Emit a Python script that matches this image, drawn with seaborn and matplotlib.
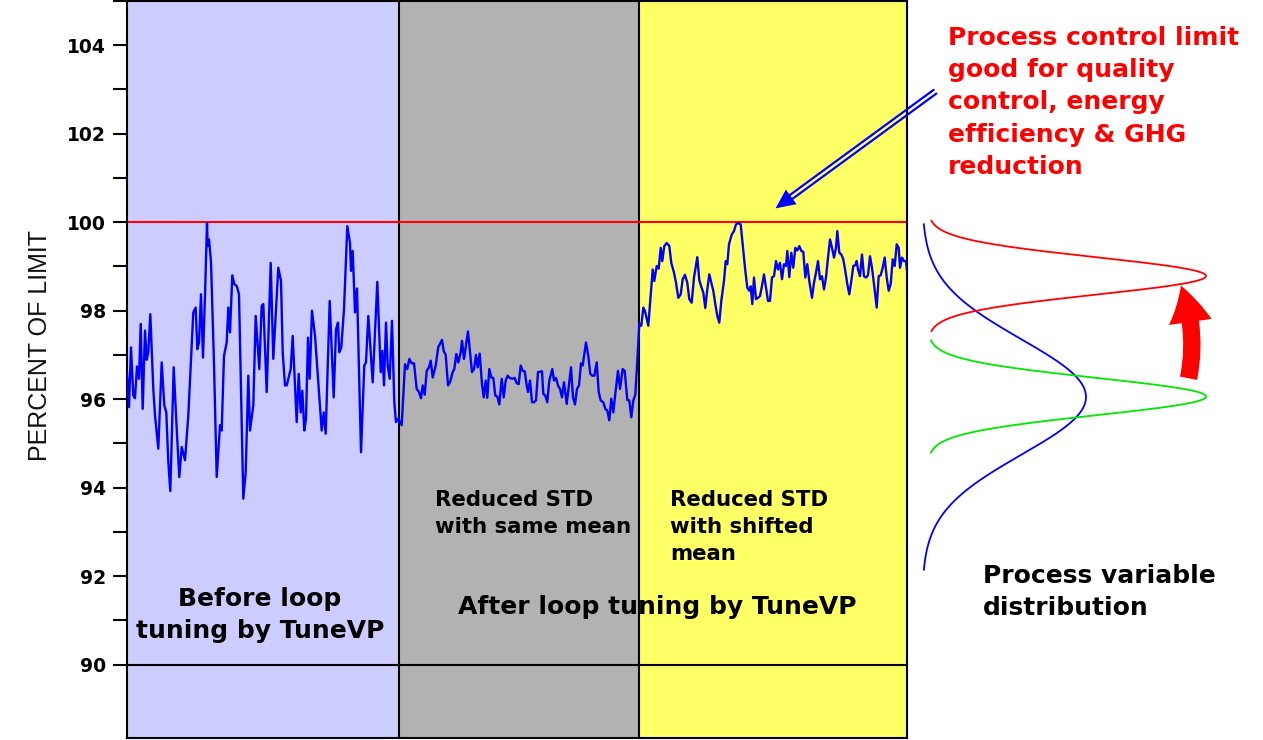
import numpy as np
import matplotlib
matplotlib.use("Agg")
import matplotlib.pyplot as plt
import seaborn as sns
import pandas as pd
from matplotlib.patches import FancyArrowPatch, ArrowStyle
from matplotlib.lines import Line2D

# ---------------- data ----------------
time_pts = [
    127, 129, 131, 133.3, 135, 137, 139, 140.7, 142.7, 145, 146.7, 148.3, 150.3, 153.3, 155, 158.3,
    161.7, 164.3, 166.3, 168.3, 170.3, 173.7, 176.7, 179.3, 181.7, 185, 188.3, 193.3, 195.7, 197.3,
    199, 201, 203, 205, 207, 207.7, 209, 211, 214, 216.7, 220, 221.7, 224, 226.7, 228.3, 230, 232.3,
    234.3, 236.7, 239, 243.3, 245.7, 248.3, 250, 253.3, 255.7, 259.3, 261.7, 263.3, 266.7, 270.7,
    273.3, 278.3, 281, 282.7, 285, 286.7, 290.7, 292.7, 296.7, 298.7, 300.7, 302.3, 304.3, 306, 308,
    309.7, 312, 315, 321.7, 323.7, 325.7, 329.7, 333.7, 336, 338, 339.3, 341.3, 344, 347.3, 350, 351,
    352.7, 355, 357, 361, 364.3, 366, 368.3, 372.7, 377.3, 380.7, 382.3, 384, 386, 387.7, 389.7, 392,
    394.3, 396, 398.3,
    401.7, 405, 407.3, 409.3, 411.7, 414, 416.7, 419, 421, 422.7, 424.7, 426.7, 429, 430.7, 432.7,
    435.7, 438.3, 440, 442, 443.7, 445.7, 448, 450, 452.7, 454.3, 456.3, 458.3, 460.7, 462, 464, 468,
    472, 474, 476, 477.7, 479.7, 482, 483.7, 485.7, 487.3, 489.3, 491.3, 493.3, 495.3, 497.3, 499.3,
    501.7, 503.7, 505.7, 507.7, 509.7, 512.3, 514.7, 516.7, 518.7, 520.7, 522.7, 524.7, 526.7, 528,
    530, 532, 534, 536, 538, 542, 543.3, 545.3, 547.3, 549.3, 552.3, 554, 556, 558, 560, 562, 564,
    566.7, 569, 571, 573, 575, 577, 579, 581, 582.7, 586, 588.3, 590.3, 592.3, 594.3, 596.7, 598.7,
    600.7, 603.3, 605.3, 607.3, 609.3, 611.3, 613.3, 615.3, 618, 620, 622.7, 624.7, 627.3, 629.3,
    631.3, 633.3, 635.3, 637.3, 639.3, 641.3, 643.3,
    645, 648.3, 652.7, 654.3, 656.7, 658.7, 660.7, 662.3, 664.3, 666.7, 669.3, 671.3, 674, 676,
    678.3, 680.7, 682.7, 685, 687.3, 689.3, 691.7, 694, 697.3, 699.3, 701.3, 703.3, 705.3, 707.3,
    709.3, 711.3, 713.3, 715.3, 717.3, 719.3, 721.3, 724, 725.7, 727.3, 729, 731.7, 734, 736, 738.3,
    740.7, 742.7, 745, 747.3, 749.3, 750.7, 752.3, 754, 756, 758, 760, 762, 764, 766, 768, 770, 772,
    774, 776, 778, 780, 782, 784, 786, 787.3, 789.3, 791.3, 793.3, 795.3, 797.3, 799.3, 801.3, 803.3,
    805.3, 807.3, 809.3, 812, 814, 816, 818, 820, 822, 824, 826, 828, 830, 832, 834, 836, 837.3,
    839.3, 841.3, 843.3, 845.3, 847.3, 849.3, 851.3, 853.3, 855.3, 856.7, 858, 860, 862, 864, 866,
    868, 870, 872, 874, 876.7, 878.7, 880.7, 882.7, 884.7, 886.7, 888.7, 890.7, 892.7, 894.7, 896.7,
    898.7, 900, 902, 904, 906, 907,
]
pv_values = [
    96.61, 95.82, 97.17, 96.08, 96.02, 96.74, 96.46, 97.70, 95.78, 97.55, 96.89, 97.06, 97.92, 96.23,
    95.63, 94.88, 96.83, 95.86, 95.70, 94.58, 93.92, 96.72, 95.33, 94.24, 94.92, 94.62, 95.63, 97.96,
    98.07, 97.13, 97.28, 98.37, 96.94, 98.33, 99.98, 99.46, 99.61, 99.10, 96.80, 94.24, 95.41, 95.29,
    96.98, 97.28, 98.07, 97.51, 98.80, 98.60, 98.56, 98.37, 93.75, 94.35, 96.53, 95.29, 95.86, 97.88,
    96.68, 98.11, 98.15, 96.16, 99.08, 96.91, 98.97, 98.67, 97.06, 96.31, 96.31, 96.68, 97.43, 95.48,
    96.57, 95.70, 96.19, 95.29, 95.56, 97.39, 96.46, 98.00, 97.43, 95.29, 95.70, 95.22, 98.22, 96.04,
    97.58, 97.73, 97.06, 97.17, 98.03, 99.91, 99.53, 98.90, 99.35, 97.96, 98.50, 94.80, 96.76, 96.83,
    97.88, 96.38, 98.65, 96.61, 97.09, 96.31, 97.73, 96.76, 96.46, 97.77, 95.93, 95.48, 95.56,
    95.41, 96.79, 96.68, 96.91, 96.81, 96.81, 96.23, 96.16, 96.02, 96.31, 96.10, 96.64, 96.72, 96.87,
    96.49, 96.76, 97.18, 97.25, 97.34, 97.09, 97.00, 96.31, 96.38, 96.61, 96.68, 97.02, 96.83, 97.06,
    97.32, 96.91, 97.53, 96.61, 96.68, 97.00, 96.72, 97.03, 96.34, 96.04, 96.42, 96.03, 96.68, 96.49,
    96.48, 96.08, 96.06, 95.88, 96.46, 96.04, 96.42, 96.53, 96.48, 96.46, 96.48, 96.36, 96.34, 96.76,
    96.64, 96.63, 96.31, 96.16, 96.42, 95.93, 95.93, 95.97, 96.61, 96.63, 96.12, 96.08, 95.93, 96.42,
    96.68, 96.42, 96.48, 96.31, 96.23, 96.04, 96.38, 95.89, 96.34, 96.72, 96.04, 95.88, 96.23, 96.31,
    96.81, 96.76, 97.28, 96.98, 96.57, 96.53, 96.53, 96.83, 96.16, 95.97, 95.93, 95.78, 95.74, 95.52,
    96.01, 95.70, 96.12, 96.64, 96.23, 96.68, 96.64, 95.98, 95.97, 95.59, 95.97, 96.10, 96.87, 97.70,
    97.66, 98.07,
    97.99, 97.66, 98.93, 98.67, 99.01, 98.95, 99.42, 99.12, 99.46, 99.53, 99.46, 99.08, 98.86, 98.63,
    98.29, 98.37, 98.71, 98.81, 98.63, 98.26, 98.18, 98.75, 99.21, 98.69, 98.54, 98.41, 98.06, 98.48,
    98.82, 98.63, 98.45, 98.15, 97.88, 97.73, 98.22, 98.67, 99.12, 99.05, 99.50, 99.72, 99.80, 99.95,
    99.98, 99.95, 99.50, 98.97, 98.52, 98.45, 98.55, 98.15, 98.75, 98.26, 98.29, 98.33, 98.56, 98.82,
    98.52, 98.22, 98.22, 98.75, 98.78, 99.12, 98.93, 99.08, 98.71, 99.05, 99.01, 99.35, 98.76, 99.31,
    98.97, 99.42, 99.36, 99.46, 99.35, 99.33, 98.75, 99.05, 98.67, 98.29, 98.63, 98.86, 99.12, 98.71,
    98.78, 98.48, 98.75, 99.20, 99.61, 99.42, 99.20, 99.42, 99.80, 99.31, 99.27, 99.16, 98.90, 98.60,
    98.37, 98.67, 99.01, 99.03, 99.12, 98.93, 98.78, 99.27, 98.78, 98.75, 98.80, 99.23, 98.97, 98.60,
    98.07, 98.78, 98.80, 98.97, 99.20, 98.75, 98.45, 98.60, 99.16, 99.01, 99.50, 99.42, 98.97, 99.20,
    99.12, 99.12, 98.90,
]

region_edges = [127, 399, 639, 907]
region_colors = ["#CCCCFF", "#B2B2B2", "#FFFF66"]

control_limit = 100
reference_level = 90
y_major_ticks = [90, 92, 94, 96, 98, 100, 102, 104]
y_minor_ticks = [91, 93, 95, 97, 99, 101, 103, 105]

# process-variable distributions: before, after (same mean), after (shifted mean)
dist_means = [96.03, 96.04, 98.76]
dist_stds = [1.30, 0.42, 0.42]
dist_spans = [3.9, 1.27, 1.25]
dist_colors = ["#0000FF", "#00E600", "#FF0000"]

# ---------------- figure ----------------
W, H = 1263, 740
sns.set_theme(style="white")
plt.rcParams["font.family"] = ["DejaVu Sans"]
plt.rcParams["text.color"] = "black"
plt.rcParams["axes.labelcolor"] = "black"
plt.rcParams["ytick.color"] = "black"
plt.rcParams["ytick.labelcolor"] = "black"

fig = plt.figure(figsize=(W / 100, H / 100), dpi=100)
fig.patch.set_facecolor("white")


def px(x, y):
    return (x / W, 1 - y / H)


ax = fig.add_axes([127 / W, 2 / H, 780 / W, 737 / H])
ax.set_xlim(region_edges[0], region_edges[-1])
ax.set_ylim(88.34, 104.96)

for i, c in enumerate(region_colors):
    ax.axvspan(region_edges[i], region_edges[i + 1], color=c, lw=0, zorder=0)
for e in region_edges[1:-1]:
    ax.axvline(e, color="black", lw=1.5, zorder=2)
ax.axhline(reference_level, color="black", lw=1.5, zorder=2)
ax.axhline(control_limit, color="#FF0000", lw=1.5, zorder=2)

df = pd.DataFrame({"t": time_pts, "pv": pv_values})
sns.lineplot(data=df, x="t", y="pv", ax=ax, color="#0000FF", lw=1.7,
             estimator=None, sort=False, zorder=3)

ax.set_xticks([])
ax.set_xlabel("")
ax.set_yticks(y_major_ticks)
ax.set_yticks(y_minor_ticks, minor=True)
ax.set_yticklabels([str(v) for v in y_major_ticks], fontsize=13.5, fontweight="bold",
                   color="black")
ax.tick_params(axis="y", which="both", left=True, direction="out", length=10,
               width=1.5, color="black", pad=5)
for s in ax.spines.values():
    s.set_visible(True)
    s.set_color("black")
    s.set_linewidth(1.5)

ax.set_ylabel("PERCENT OF LIMIT", fontsize=18, family=["Liberation Sans", "DejaVu Sans"],
              color="#111111")
ax.yaxis.set_label_coords(-0.0965, 0.533)

big = 18
ax.text(260, 91.76, "Before loop\ntuning by TuneVP", ha="center", va="top",
        fontsize=big, fontweight="bold", linespacing=1.42, zorder=5, color="black")
ax.text(657.5, 91.58, "After loop tuning by TuneVP", ha="center", va="top",
        fontsize=big, fontweight="bold", zorder=5, color="black")
ax.text(435, 93.94, "Reduced STD\nwith same mean", ha="left", va="top",
        fontsize=15.3, fontweight="bold", linespacing=1.42, zorder=5, color="black")
ax.text(670, 93.94, "Reduced STD\nwith shifted\nmean", ha="left", va="top",
        fontsize=15.3, fontweight="bold", linespacing=1.42, zorder=5, color="black")

# ---------------- distribution panel ----------------
ax2 = fig.add_axes([910 / W, 2 / H, (W - 910) / W, 737 / H])
ax2.set_xlim(910, W)
ax2.set_ylim(88.34, 104.96)
ax2.axis("off")
bases = [922, 928, 928]
amps = [164, 278, 278]
for m, s, sp, c, b, a in zip(dist_means, dist_stds, dist_spans, dist_colors, bases, amps):
    v = np.linspace(m - sp, m + sp, 300)
    ax2.plot(b + a * np.exp(-0.5 * ((v - m) / s) ** 2), v, color=c, lw=1.3)

# red curved arrow (shift of mean)
red_arrow = FancyArrowPatch(px(1188, 381), px(1180, 283), transform=fig.transFigure,
                            arrowstyle=ArrowStyle.Simple(head_length=27, head_width=31,
                                                         tail_width=12.5),
                            connectionstyle="arc3,rad=0.15", mutation_scale=1,
                            color="#FF0000", lw=0)
fig.add_artist(red_arrow)

# blue double-line arrow to the control limit
tail = np.array([935.0, 91.7])
tip = np.array([773.3, 210.0])
d = tip - tail
u = d / np.linalg.norm(d)
n = np.array([-u[1], u[0]])
head_len = 19
base = tip - u * head_len
for sgn in (-1, 1):
    p0 = tail + sgn * 2.3 * n
    p1 = base + sgn * 2.3 * n
    fig.add_artist(Line2D([p0[0] / W, p1[0] / W], [1 - p0[1] / H, 1 - p1[1] / H],
                          transform=fig.transFigure, color="#0000FF", lw=1.6))
head = FancyArrowPatch(px(*(tip - u * 30)), px(*tip), transform=fig.transFigure,
                       arrowstyle="-|>,head_length=1.4,head_width=0.65",
                       mutation_scale=10, color="#0000FF", lw=0)
fig.add_artist(head)

fig.text(948 / W, 1 - 26 / H,
         "Process control limit\ngood for quality\ncontrol, energy\nefficiency & GHG\nreduction",
         color="#FF0000", fontsize=big, fontweight="bold", ha="left", va="top", linespacing=1.43)
fig.text(983 / W, 1 - 564 / H, "Process variable\ndistribution", color="black",
         fontsize=big, fontweight="bold", ha="left", va="top", linespacing=1.40)

fig.savefig("out.png", dpi=100, facecolor="white")
